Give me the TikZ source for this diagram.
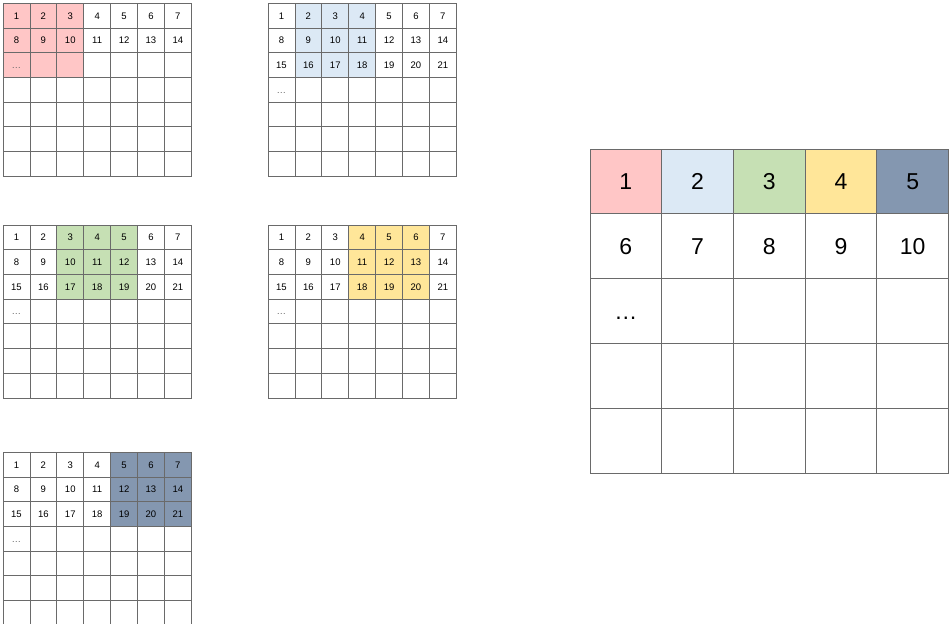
\documentclass[tikz,border=0pt]{standalone}
\usepackage{fontspec}
\setmainfont{Liberation Sans}
\definecolor{cpink}{HTML}{FFC6C6}
\definecolor{cblue}{HTML}{DCE9F5}
\definecolor{cgreen}{HTML}{C6E0B4}
\definecolor{cyellow}{HTML}{FFE699}
\definecolor{cslate}{HTML}{8497B0}
\definecolor{gridc}{HTML}{6A6A6A}
\newcommand\smallgrid[6]{%
  \foreach \r in {1,...,7}{%
    \foreach \c in {1,...,7}{%
      \pgfmathtruncatemacro\n{(\r-1)*7+\c}%
      \def\fillc{white}%
      \ifnum\r<4 \ifnum\c>\numexpr#4-1\relax \ifnum\c<\numexpr#4+3\relax \def\fillc{#5}\fi\fi\fi
      \def\txt{}%
      \ifnum\r>#6
        \ifnum\r=\numexpr#6+1\relax \ifnum\c=1 \def\txt{\textcolor{black!60}{…}}\fi\fi
      \else
        \edef\txt{\n}%
      \fi
      \node[smallcell, fill=\fillc] (#1-\r-\c) at ({#2+(\c-0.5)*26.9},{#3+(\r-0.5)*24.7}) {\txt};
    }%
  }%
}
\begin{document}
\begin{tikzpicture}[x=1pt,y=-1pt,
  smallcell/.style={draw=gridc, line width=0.8pt, minimum width=26.9pt, minimum height=24.7pt,
    inner sep=0pt, outer sep=0pt, text height=6.8pt, text depth=0pt,
    font=\fontsize{9.5}{10}\selectfont},
  bigcell/.style={draw=gridc, line width=1pt, minimum width=71.7pt, minimum height=64.85pt,
    inner sep=0pt, outer sep=0pt, text height=16.6pt, text depth=0pt,
    font=\fontsize{23}{26}\selectfont}]
\useasboundingbox (0,0) rectangle (949,623);
\smallgrid{ga}{3}{3.3}{1}{cpink}{2}
\smallgrid{gb}{268}{3.3}{2}{cblue}{3}
\smallgrid{gc}{3}{225}{3}{cgreen}{3}
\smallgrid{gd}{268}{225}{4}{cyellow}{3}
\smallgrid{ge}{3}{452.3}{5}{cslate}{3}
% big grid
\foreach \r in {1,...,5}{%
  \foreach \c in {1,...,5}{%
    \def\txt{}%
    \def\fillc{white}%
    \ifnum\r=1
      \edef\txt{\c}%
      \ifcase\c\or\def\fillc{cpink}\or\def\fillc{cblue}\or\def\fillc{cgreen}\or\def\fillc{cyellow}\or\def\fillc{cslate}\fi
    \fi
    \ifnum\r=2 \pgfmathtruncatemacro\n{\c+5}\edef\txt{\n}\fi
    \ifnum\r=3 \ifnum\c=1 \def\txt{…}\fi\fi
    \node[bigcell, fill=\fillc] (big-\r-\c) at ({590+(\c-0.5)*71.7},{149+(\r-0.5)*64.85}) {\txt};
  }%
}
\end{tikzpicture}
\end{document}
